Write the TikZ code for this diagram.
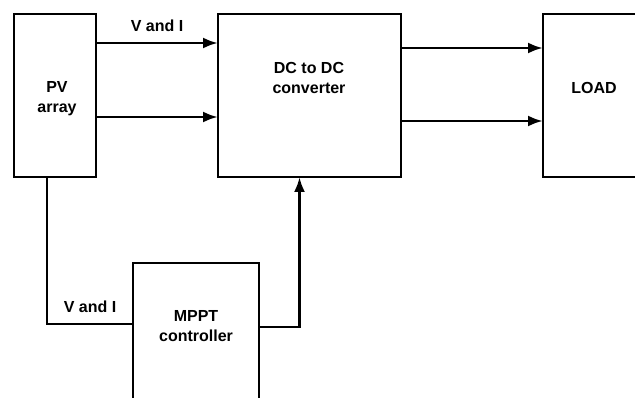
\documentclass[tikz,border=0pt]{standalone}
\usepackage{fontspec}
\setmainfont{Liberation Sans}
\usetikzlibrary{arrows.meta}
\begin{document}
\begin{tikzpicture}[x=1pt, y=-1pt, line width=2.8pt, line join=miter,
        every node/.style={font=\fontsize{16}{20}\selectfont\bfseries},
        block/.style={draw, rectangle, inner sep=0pt, outer sep=0pt},
        tag/.style={align=center, inner sep=0pt},
        link/.style={-{Latex[length=15pt, width=11pt]}}]
        \useasboundingbox (0,0) rectangle (635,398);
        \clip (0,0) rectangle (635,398);
        % boxes
        \node[block, minimum width=82pt, minimum height=163pt] (pv) at (55,95.5) {};
        \node[block, minimum width=183pt, minimum height=163pt] (dc) at (309.5,95.5) {};
        \node[block, minimum width=102pt, minimum height=163pt] (load) at (594,95.5) {};
        \node[block, minimum width=126pt, minimum height=150pt] (mppt) at (196,338) {};
        % texts
        \node[tag] (pvtext) at (57,99) {PV\\array};
        \node[tag] (dctext) at (309,78) {DC to DC\\converter};
        \node[tag] (loadtext) at (594,88) {LOAD};
        \node[tag] (mppttext) at (196,326) {MPPT\\controller};
        % connectors
        \draw[link] ([yshift=52.5pt]pv.east) -- ([yshift=52.5pt]pv.east -| dc.west)
            node[tag, midway, above=10pt] (vi) {V and I};
        \draw[link] ([yshift=-21.5pt]pv.east) -- ([yshift=-21.5pt]pv.east -| dc.west);
        \draw[link] ([yshift=47.5pt]dc.east) -- ([yshift=47.5pt]dc.east -| load.west);
        \draw[link] ([yshift=-25.5pt]dc.east) -- ([yshift=-25.5pt]dc.east -| load.west);
        \draw ([xshift=-8pt]pv.south) |- ([yshift=14pt]mppt.west)
            node[tag, pos=0.75, above=10pt] (vilow) {V and I};
        \draw[link] ([yshift=11pt]mppt.east) -| ([xshift=-10pt]dc.south);
\end{tikzpicture}
\end{document}
